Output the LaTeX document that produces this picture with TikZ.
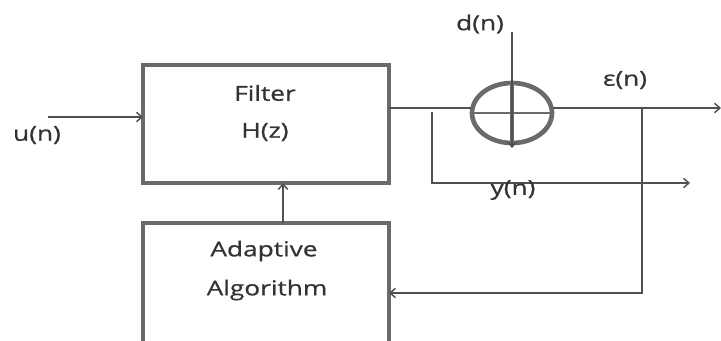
\documentclass[tikz,border=0pt]{standalone}
\usepackage{fontspec}
\setmainfont{Open Sans}
\newfontfamily\lblfont[BoldFont={Open Sans},BoldFeatures={FakeBold=0.6}]{Open Sans}
\usetikzlibrary{arrows.meta,shapes.geometric}
\definecolor{boxgray}{HTML}{6A6A6A}
\definecolor{linegray}{HTML}{505050}
\begin{document}
\begin{tikzpicture}[x=0.75pt,y=-0.75pt,
  blk/.style={draw=boxgray,line width=3pt,minimum width=246*0.75pt,inner sep=0pt},
  wire/.style={draw=linegray,line width=1.1pt},
  arr/.style={wire,-{Straight Barb[length=4pt,width=7pt]}},
  lbl/.style={font=\lblfont\bfseries\fontsize{15.5}{17}\selectfont,text=black!80,xscale=1.27,inner sep=0pt}]
\useasboundingbox (0,0) rectangle (721,340);
\clip (0,0) rectangle (721,340);
% blocks
\node[blk,minimum height=118*0.75pt] (filter) at (266,124) {};
\node[blk,minimum height=130*0.75pt] (adapt) at (266,288) {};
\node[lbl] (ft1) at (265,93) {Filter};
\node[lbl] (ft2) at (265,132) {H(z)};
\node[lbl] (at1) at (264,251) {Adaptive};
\node[lbl] (at2) at (267,290) {Algorithm};
% summing junction
\node[ellipse,draw=boxgray,line width=3.5pt,minimum width=80*0.75pt,minimum height=60*0.75pt,inner sep=0pt] (sum) at (512,113) {};
\draw[draw=boxgray,line width=2.2pt] (sum.west) -- (sum.east);
\draw[draw=boxgray,line width=3pt] (sum.north) -- (sum.south);
% coordinates
\coordinate (uin) at (48,117);
\coordinate (fin) at (143,117);
\coordinate (fout) at (389,108);
\coordinate (sin) at (471,108);
\coordinate (sout) at (553,108);
\coordinate (eout) at (721,108);
\coordinate (dtop) at (512,32);
\coordinate (dbot) at (512,148);
\coordinate (tap) at (432,112);
\coordinate (tapc) at (432,183);
\coordinate (yend) at (690,183);
\coordinate (etap) at (642,108);
\coordinate (ecor) at (642,293);
\coordinate (ain) at (389,293);
\coordinate (aup) at (283,223);
\coordinate (fdn) at (283,183);
% connectors
\draw[arr] (uin) -- (fin);
\draw[wire] (fout) -- (sin);
\draw[arr] (dtop) -- (dbot);
\draw[arr] (sout) -- (eout);
\draw[arr] (tap) -- (tapc) -- (yend);
\draw[arr] (etap) -- (ecor) -- (ain);
\draw[arr] (aup) -- (fdn);
% labels
\node[lbl] (un) at (37,135) {u(n)};
\node[lbl] (dn) at (480,24) {d(n)};
\node[lbl] (en) at (625,80) {ε(n)};
\node[lbl] (yn) at (513,190) {y(n)};
\end{tikzpicture}
\end{document}
